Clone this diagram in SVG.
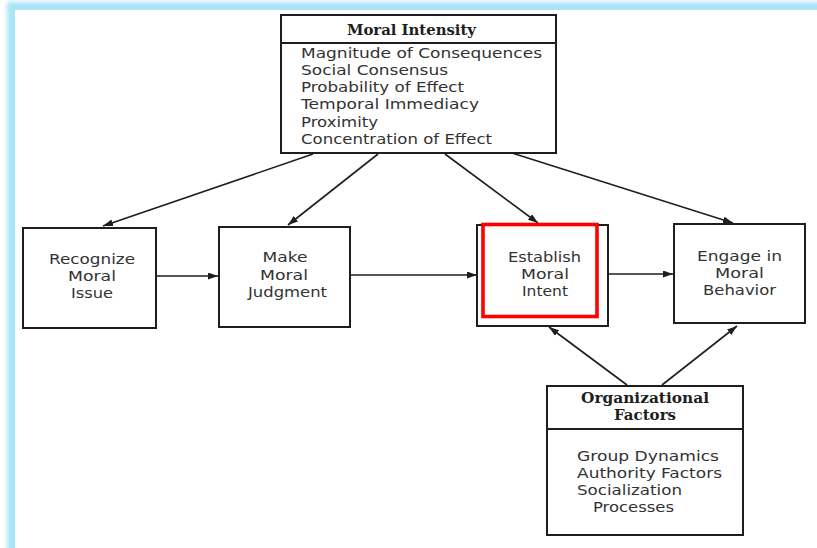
<svg xmlns="http://www.w3.org/2000/svg" width="817" height="548" viewBox="0 0 817 548">
  <defs>
    <filter id="soft" x="-5%" y="-5%" width="110%" height="110%">
      <feGaussianBlur stdDeviation="2"/>
    </filter>
    <marker id="arrow" markerUnits="userSpaceOnUse" markerWidth="11" markerHeight="8" refX="10" refY="3.5" orient="auto">
      <path d="M0,0 L10,3.5 L0,7 z" fill="#1e1e1e"/>
    </marker>
    <style>
      .box { fill: #ffffff; stroke: #1e1e1e; stroke-width: 2; }
      .rule { stroke: #1e1e1e; stroke-width: 1.8; fill: none; }
      .edge { stroke: #1e1e1e; stroke-width: 1.6; fill: none; marker-end: url(#arrow); }
      .t { font-family: "DejaVu Sans", "Liberation Sans", sans-serif; font-size: 14px; fill: #333333; }
      .c { text-anchor: middle; }
      .h { font-family: "DejaVu Serif", "Liberation Serif", serif; font-size: 14px; font-weight: bold; fill: #1e1e1e; }
      .hl { fill: none; stroke: #ff0000; stroke-width: 3.6; }
    </style>
  </defs>

  <!-- page frame: soft blue edge with white sheet on top -->
  <rect x="0" y="0" width="817" height="548" fill="#ffffff"/>
  <rect x="7" y="2" width="830" height="570" fill="#a9e5f7" filter="url(#soft)"/>
  <rect x="15" y="10" width="802" height="538" fill="#ffffff"/>

  <!-- connectors -->
  <g id="connectors">
    <line class="edge" x1="313" y1="154" x2="103" y2="226"/>
    <line class="edge" x1="378" y1="154" x2="288" y2="225"/>
    <line class="edge" x1="445" y1="154" x2="538" y2="223"/>
    <line class="edge" x1="512" y1="153" x2="733" y2="223"/>
    <line class="edge" x1="157" y1="276" x2="218" y2="276"/>
    <line class="edge" x1="351" y1="275" x2="477" y2="275"/>
    <line class="edge" x1="609" y1="274" x2="673" y2="274"/>
    <line class="edge" x1="627" y1="385" x2="549" y2="327"/>
    <line class="edge" x1="662" y1="385" x2="737" y2="326"/>
  </g>

  <!-- Moral Intensity -->
  <g id="moral-intensity">
    <rect class="box" x="281" y="15" width="275" height="138"/>
    <line class="rule" x1="281" y1="43" x2="556" y2="43"/>
    <text class="h" x="347" y="35" textLength="129" lengthAdjust="spacingAndGlyphs">Moral Intensity</text>
    <text class="t" x="301" y="57.5" textLength="241" lengthAdjust="spacingAndGlyphs">Magnitude of Consequences</text>
    <text class="t" x="301" y="74.5" textLength="147" lengthAdjust="spacingAndGlyphs">Social Consensus</text>
    <text class="t" x="301" y="91.5" textLength="163" lengthAdjust="spacingAndGlyphs">Probability of Effect</text>
    <text class="t" x="301" y="109" textLength="178" lengthAdjust="spacingAndGlyphs">Temporal Immediacy</text>
    <text class="t" x="301" y="126.5" textLength="77" lengthAdjust="spacingAndGlyphs">Proximity</text>
    <text class="t" x="301" y="143.5" textLength="191" lengthAdjust="spacingAndGlyphs">Concentration of Effect</text>
  </g>

  <!-- Recognize Moral Issue -->
  <g id="recognize">
    <rect class="box" x="23" y="228" width="133" height="100"/>
    <text class="t c" x="92" y="264" textLength="86" lengthAdjust="spacingAndGlyphs">Recognize</text>
    <text class="t c" x="92" y="281" textLength="48" lengthAdjust="spacingAndGlyphs">Moral</text>
    <text class="t c" x="92" y="298" textLength="42" lengthAdjust="spacingAndGlyphs">Issue</text>
  </g>

  <!-- Make Moral Judgment -->
  <g id="judgment">
    <rect class="box" x="219" y="227" width="131" height="100"/>
    <text class="t c" x="285" y="262" textLength="45" lengthAdjust="spacingAndGlyphs">Make</text>
    <text class="t c" x="284" y="280" textLength="48" lengthAdjust="spacingAndGlyphs">Moral</text>
    <text class="t c" x="287.5" y="297" textLength="79" lengthAdjust="spacingAndGlyphs">Judgment</text>
  </g>

  <!-- Establish Moral Intent -->
  <g id="intent">
    <rect class="box" x="477" y="225" width="131" height="101"/>
    <rect class="hl" x="483" y="224.5" width="114" height="92"/>
    <text class="t c" x="544.5" y="262" textLength="73" lengthAdjust="spacingAndGlyphs">Establish</text>
    <text class="t c" x="545" y="279" textLength="48" lengthAdjust="spacingAndGlyphs">Moral</text>
    <text class="t c" x="545" y="296" textLength="46" lengthAdjust="spacingAndGlyphs">Intent</text>
  </g>

  <!-- Engage in Moral Behavior -->
  <g id="behavior">
    <rect class="box" x="674" y="224" width="131" height="99"/>
    <text class="t c" x="739.5" y="261" textLength="85" lengthAdjust="spacingAndGlyphs">Engage in</text>
    <text class="t c" x="739.5" y="278" textLength="49" lengthAdjust="spacingAndGlyphs">Moral</text>
    <text class="t c" x="739.5" y="295" textLength="73" lengthAdjust="spacingAndGlyphs">Behavior</text>
  </g>

  <!-- Organizational Factors -->
  <g id="organizational">
    <rect class="box" x="547" y="386" width="196" height="149"/>
    <line class="rule" x1="547" y1="429" x2="743" y2="429"/>
    <text class="h" x="581" y="403" textLength="128" lengthAdjust="spacingAndGlyphs">Organizational</text>
    <text class="h" x="614" y="420" textLength="62" lengthAdjust="spacingAndGlyphs">Factors</text>
    <text class="t" x="577" y="461" textLength="142" lengthAdjust="spacingAndGlyphs">Group Dynamics</text>
    <text class="t" x="577" y="478" textLength="145" lengthAdjust="spacingAndGlyphs">Authority Factors</text>
    <text class="t" x="577" y="495" textLength="105" lengthAdjust="spacingAndGlyphs">Socialization</text>
    <text class="t" x="593" y="512" textLength="81" lengthAdjust="spacingAndGlyphs">Processes</text>
  </g>
</svg>
